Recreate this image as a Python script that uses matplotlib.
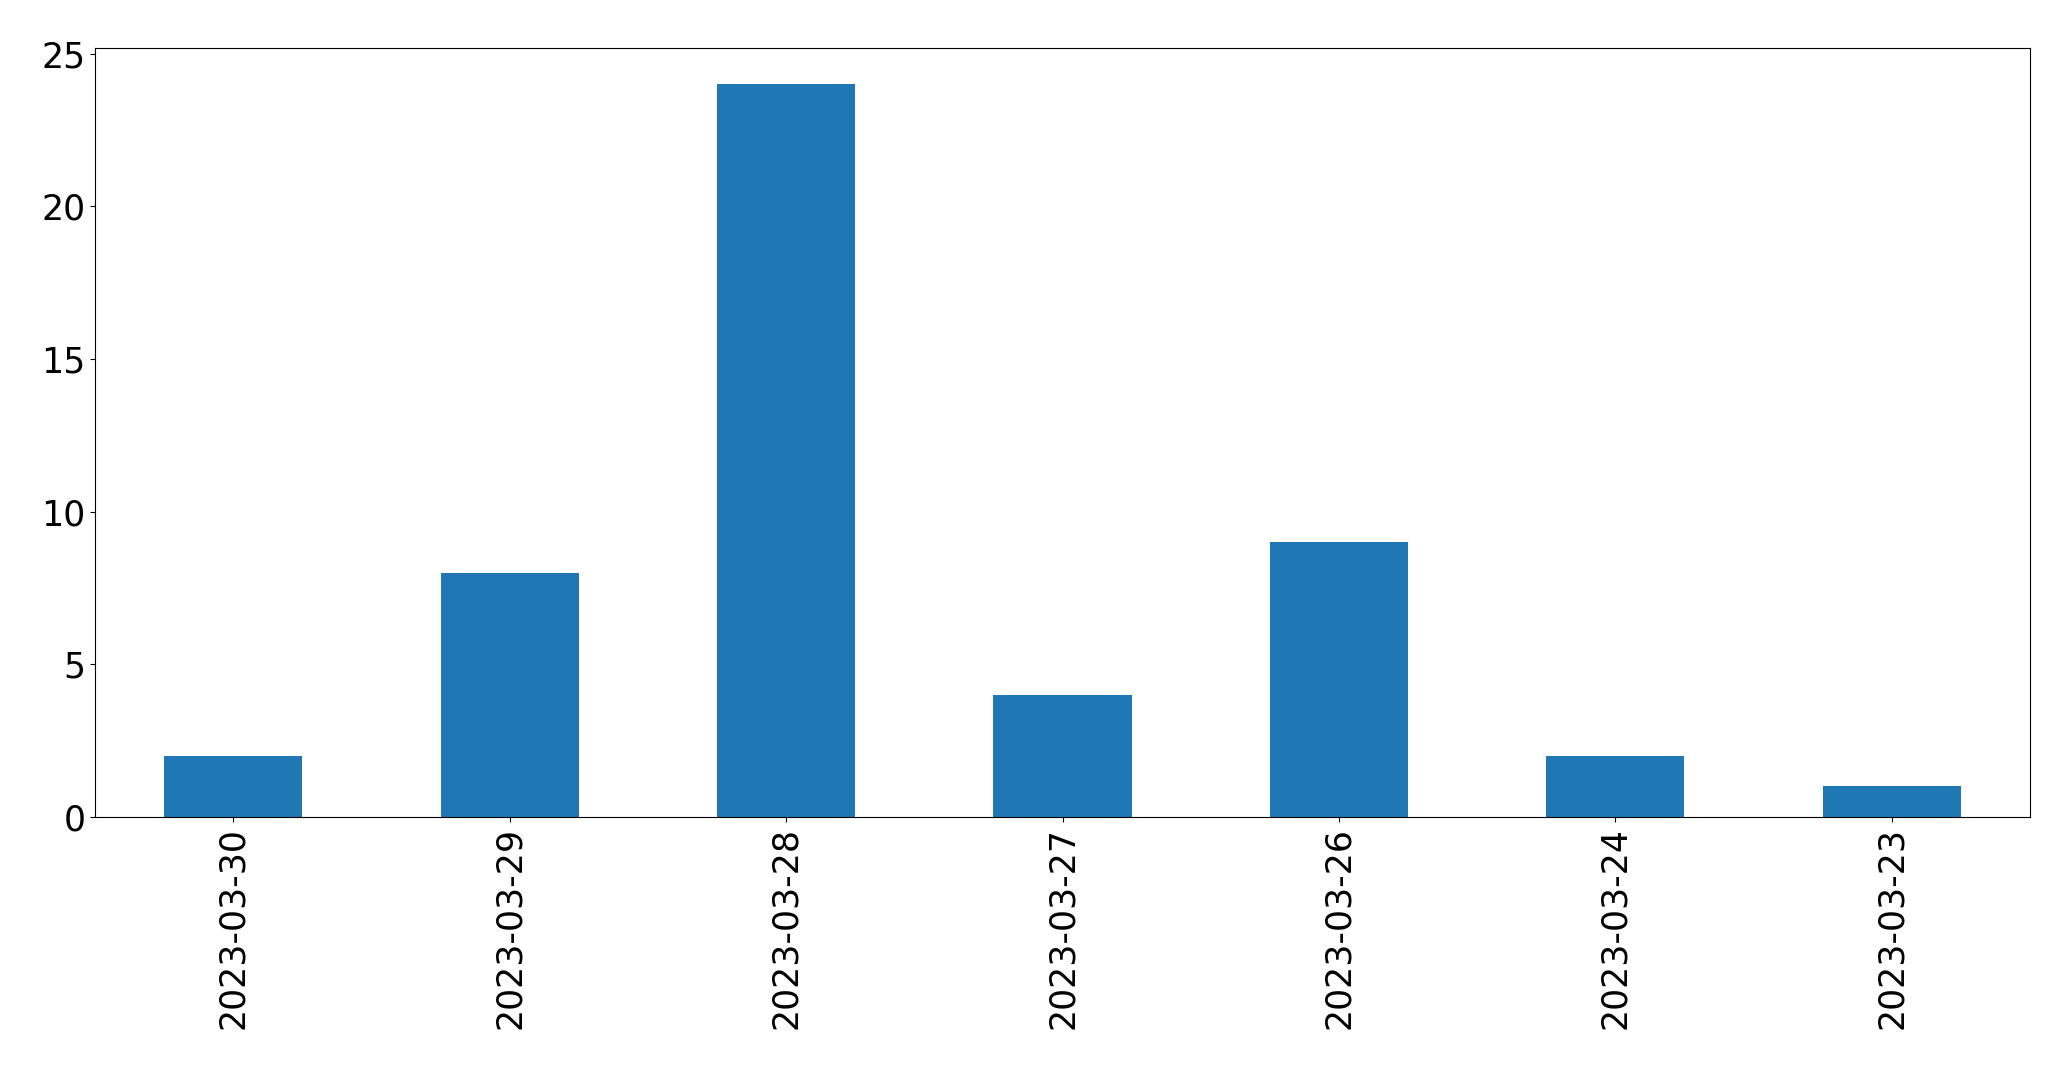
import matplotlib
matplotlib.use("Agg")
import matplotlib.pyplot as plt
import pandas as pd

# Contagem por dia
datas = ["2023-03-30", "2023-03-29", "2023-03-28", "2023-03-27",
         "2023-03-26", "2023-03-24", "2023-03-23"]
contagens = [2, 8, 24, 4, 9, 2, 1]

serie = pd.Series(contagens, index=datas)

fig = plt.figure(figsize=(20.71, 10.69), dpi=100)
ax = fig.add_axes([95 / 2071, 1 - 817 / 1069, (2030 - 95) / 2071, (817 - 47.7) / 1069])

serie.plot(kind="bar", ax=ax, color="#1f77b4", fontsize=25)
ax.tick_params(axis="x", labelrotation=90)

fig.savefig("out.png", dpi=100)
